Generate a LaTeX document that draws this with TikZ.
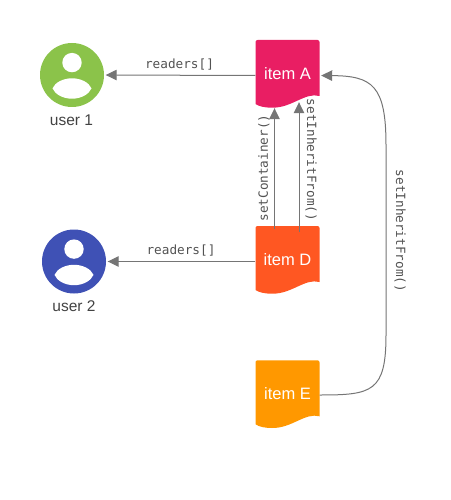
\documentclass[tikz,border=0pt]{standalone}
\usepackage{fontspec}
\setmainfont{Liberation Sans}
\setmonofont{DejaVu Sans Mono}
\usetikzlibrary{arrows.meta}
\definecolor{cgreen}{HTML}{8BC34A}
\definecolor{cblue}{HTML}{3F51B5}
\definecolor{cpink}{HTML}{E91E63}
\definecolor{cred}{HTML}{FF5722}
\definecolor{camber}{HTML}{FF9800}
\definecolor{cline}{HTML}{757575}
\definecolor{ctext}{HTML}{424242}
\tikzset{
  x=1pt,y=-1pt,
  conn/.style={draw=cline,line width=1pt,-{Triangle[length=11pt,width=10.5pt]}},
  avatar/.style={circle,minimum size=64pt,inner sep=0pt,fill=#1},
  uname/.style={font=\fontsize{15.5}{18}\selectfont,text=ctext,inner sep=0pt},
  itembox/.style={minimum width=64pt,minimum height=70pt,inner sep=0pt,text=white,font=\fontsize{16.5}{18}\selectfont},
  mono/.style={font=\ttfamily\fontsize{12.7}{14}\selectfont,text=cline!70!black,inner sep=0pt}
}
\newcommand{\docshape}[3]{%
  \fill[#3,shift={(#1,#2)}] (0,2) .. controls (0,0.9) and (0.9,0) .. (2,0) -- (62,0) .. controls (63.1,0) and (64,0.9) .. (64,2)
    -- (64,56) .. controls (49.5,52) and (36.5,68) .. (16.5,67.7)
    .. controls (9.5,67.7) and (3.5,66.5) .. (0,64) -- cycle;}
\newcommand{\personshape}[2]{%
  \fill[white,shift={(#1,#2)}] (0,-12.4) circle[radius=9.7];
  \fill[white,shift={(#1,#2)}] (-19.5,13.4) .. controls (-17,7.5) and (-9,3.3) .. (0,3.3)
    .. controls (9,3.3) and (17,7.5) .. (19.5,13.4)
    .. controls (17,19.3) and (9,23.7) .. (0,23.7)
    .. controls (-9,23.7) and (-17,19.3) .. (-19.5,13.4) -- cycle;}
\begin{document}
\begin{tikzpicture}
\useasboundingbox (0,0) rectangle (450,500);
\docshape{255.5}{40}{cpink}
\docshape{255.5}{226}{cred}
\docshape{255.5}{360.3}{camber}
\node[avatar=cgreen] (user1) at (72,75) {};
\node[avatar=cblue] (user2) at (74,261.5) {};
\personshape{72}{75}
\personshape{74}{261.5}
\node[uname] (user1name) at (71.5,120.5) {user 1};
\node[uname] (user2name) at (74,306.5) {user 2};
\node[itembox] (itemA) at (287.5,75.5) {\raisebox{4pt}{item A}};
\node[itembox] (itemD) at (287.5,261.5) {\raisebox{4pt}{item D}};
\node[itembox] (itemE) at (287.5,395) {\raisebox{3pt}{item E}};
\draw[conn,shorten >=1.5pt] (itemA.west) -- (user1.east);
\draw[conn,shorten >=1.5pt] (itemD.west) -- (user2.east);
\draw[conn] ([xshift=-13pt,yshift=-3pt]itemD.north) -- ([xshift=-13pt,yshift=2.5pt]itemA.south);
\draw[conn] ([xshift=11.5pt,yshift=-6pt]itemD.north) -- ([xshift=11.5pt,yshift=8.5pt]itemA.south);
\draw[conn] (itemE.east) .. controls (372,395) and (386,392) .. (386,335) -- (386,145) .. controls (386,85) and (372,76) .. ([xshift=1.5pt]itemA.east);
\node[mono] (lab1) at (179.5,64.5) {readers[]};
\node[mono] (lab2) at (181,250.5) {readers[]};
\node[mono,rotate=90] (lab3) at (264,168) {setContainer()};
\node[mono,rotate=-90] (lab4) at (311,160) {setInheritFrom()};
\node[mono,rotate=-90] (lab5) at (400,231) {setInheritFrom()};
\end{tikzpicture}
\end{document}
